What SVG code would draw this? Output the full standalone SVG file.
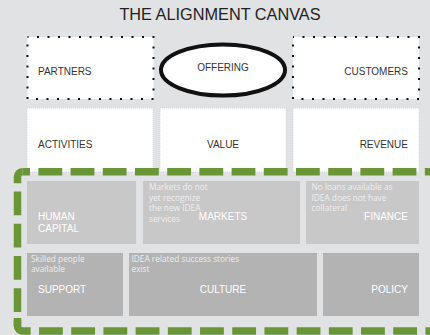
<svg xmlns="http://www.w3.org/2000/svg" width="430" height="335" viewBox="0 0 430 335">
<style>
.lbl{font-family:"Liberation Sans",Arial,sans-serif;font-size:10px;fill:#333333}
.wl{font-family:"Liberation Sans",Arial,sans-serif;font-size:10px;fill:#ffffff}
.note{font-family:"Open Sans","Noto Sans",sans-serif;font-size:8.3px;fill:#eeeeee}
.dot{fill:#ffffff;stroke:#111111;stroke-width:2;stroke-dasharray:2 8.5;stroke-dashoffset:1}
.wbox{fill:#ffffff;stroke:#d8d8d8;stroke-width:1;stroke-dasharray:1 1}
.g1{fill:#c9c8c9}
.g2{fill:#b3b3b3}
.green{fill:none;stroke:#6a9637;stroke-width:7.5;stroke-dasharray:23.8 8.4}
</style>
<rect x="0" y="0" width="430" height="335" fill="#e1e2e4"/>
<text x="220" y="20" text-anchor="middle" style="font-family:'Liberation Sans',Arial,sans-serif;font-size:16.3px;fill:#222222">THE ALIGNMENT CANVAS</text>

<g id="partners">
<rect class="dot" x="27.5" y="37" width="126" height="62"/>
<text class="lbl" x="38" y="75">PARTNERS</text>
</g>
<g id="offering">
<ellipse cx="223" cy="70" rx="62" ry="25.5" fill="#ffffff" stroke="#111111" stroke-width="4"/>
<text class="lbl" x="223" y="71" text-anchor="middle">OFFERING</text>
</g>
<g id="customers">
<rect class="dot" x="293" y="37" width="126" height="62"/>
<text class="lbl" x="408" y="75" text-anchor="end">CUSTOMERS</text>
</g>

<g id="activities">
<rect class="wbox" x="27" y="108" width="126" height="64"/>
<text class="lbl" x="38" y="148">ACTIVITIES</text>
</g>
<g id="value">
<rect class="wbox" x="160" y="108" width="126" height="64"/>
<text class="lbl" x="223" y="148" text-anchor="middle">VALUE</text>
</g>
<g id="revenue">
<rect class="wbox" x="293" y="108" width="126" height="64"/>
<text class="lbl" x="408" y="148" text-anchor="end">REVENUE</text>
</g>

<g id="human-capital">
<rect class="g1" x="27" y="181" width="109" height="63"/>
<text class="wl" x="38" y="220">HUMAN</text>
<text class="wl" x="38" y="232">CAPITAL</text>
</g>
<g id="markets">
<rect class="g1" x="143" y="181" width="157" height="63"/>
<text class="note" x="149" y="190">Markets do not</text>
<text class="note" x="149" y="200.7">yet recognize</text>
<text class="note" x="149" y="211.4">the new IDEA</text>
<text class="note" x="149" y="222">services</text>
<text class="wl" x="223" y="220" text-anchor="middle">MARKETS</text>
</g>
<g id="finance">
<rect class="g1" x="306" y="181" width="113" height="63"/>
<text class="note" x="311.5" y="190">No loans available as</text>
<text class="note" x="311.5" y="200.7">IDEA does not have</text>
<text class="note" x="311.5" y="211.4">collateral</text>
<text class="wl" x="408" y="220" text-anchor="end">FINANCE</text>
</g>

<g id="support">
<rect class="g2" x="27" y="253" width="96" height="63"/>
<text class="note" x="31" y="262">Skilled people</text>
<text class="note" x="31" y="272">available</text>
<text class="wl" x="38" y="293">SUPPORT</text>
</g>
<g id="culture">
<rect class="g2" x="129" y="253" width="188" height="63"/>
<text class="note" x="131.5" y="262">IDEA related success stories</text>
<text class="note" x="131.5" y="272">exist</text>
<text class="wl" x="223" y="293" text-anchor="middle">CULTURE</text>
</g>
<g id="policy">
<rect class="g2" x="323" y="253" width="96" height="63"/>
<text class="wl" x="408" y="293" text-anchor="end">POLICY</text>
</g>

<g id="connectors">
<path class="green" d="M22.5 171.8 H440" stroke-dashoffset="16.3"/>
<path class="green" d="M22.5 171.8 A5 5 0 0 0 17.5 176.8 V326" stroke-dashoffset="9.8"/>
<path class="green" d="M17.5 318 V326 A5 5 0 0 0 22.5 331 H440" stroke-dashoffset="0"/>
</g>
</svg>
